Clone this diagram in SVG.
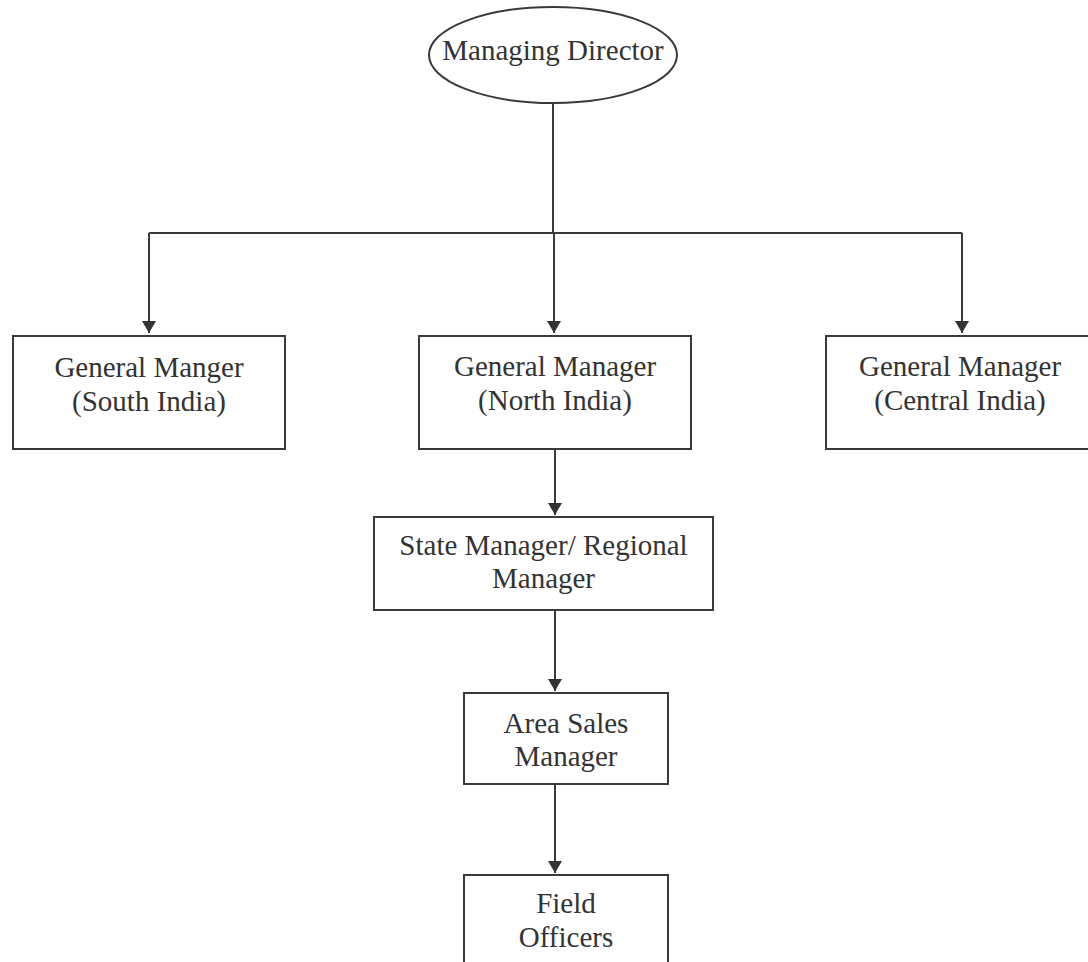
<svg xmlns="http://www.w3.org/2000/svg" width="1088" height="962" viewBox="0 0 1088 962">
  <defs>
    <style>
      .box { fill: #ffffff; stroke: #3a3a3a; stroke-width: 2; }
      .lbl { font-family: 'Liberation Serif', 'Times New Roman', Times, 'DejaVu Serif', serif; font-size: 29px; fill: #333333; text-anchor: middle; }
      .con { fill: none; stroke: #3a3a3a; stroke-width: 2; }
    </style>
    <marker id="arrow" viewBox="0 0 12 14" refX="12" refY="7" markerWidth="12" markerHeight="14" markerUnits="userSpaceOnUse" orient="auto">
      <path d="M0,0 L12,7 L0,14 z" fill="#333333"/>
    </marker>
  </defs>
  <rect width="1088" height="962" fill="#ffffff"/>

  <g id="connectors">
    <line class="con" x1="553" y1="103" x2="553" y2="233"/>
    <line class="con" x1="149" y1="233" x2="962" y2="233"/>
    <line class="con" x1="149" y1="233" x2="149" y2="333" marker-end="url(#arrow)"/>
    <line class="con" x1="554" y1="233" x2="554" y2="333" marker-end="url(#arrow)"/>
    <line class="con" x1="962" y1="233" x2="962" y2="333" marker-end="url(#arrow)"/>
    <line class="con" x1="555" y1="449" x2="555" y2="515" marker-end="url(#arrow)"/>
    <line class="con" x1="555" y1="610" x2="555" y2="691" marker-end="url(#arrow)"/>
    <line class="con" x1="555" y1="784" x2="555" y2="873" marker-end="url(#arrow)"/>
  </g>

  <g id="managing-director">
    <ellipse class="box" cx="553" cy="55" rx="124" ry="48"/>
    <text class="lbl" x="553" y="60" font-family="Liberation Serif, serif">Managing Director</text>
  </g>

  <g id="gm-south">
    <rect class="box" x="13" y="336" width="272" height="113"/>
    <text class="lbl" x="149" y="377">General Manger</text>
    <text class="lbl" x="149" y="411">(South India)</text>
  </g>

  <g id="gm-north">
    <rect class="box" x="419" y="336" width="272" height="113"/>
    <text class="lbl" x="555" y="376">General Manager</text>
    <text class="lbl" x="555" y="410">(North India)</text>
  </g>

  <g id="gm-central">
    <rect class="box" x="826" y="336" width="272" height="113"/>
    <text class="lbl" x="960" y="376">General Manager</text>
    <text class="lbl" x="960" y="410">(Central India)</text>
  </g>

  <g id="state-manager">
    <rect class="box" x="374" y="517" width="339" height="93"/>
    <text class="lbl" x="543.5" y="555">State Manager/ Regional</text>
    <text class="lbl" x="543.5" y="588">Manager</text>
  </g>

  <g id="area-sales-manager">
    <rect class="box" x="464" y="693" width="204" height="91"/>
    <text class="lbl" x="566" y="733">Area Sales</text>
    <text class="lbl" x="566" y="766">Manager</text>
  </g>

  <g id="field-officers">
    <rect class="box" x="464" y="875" width="204" height="100"/>
    <text class="lbl" x="566" y="913">Field</text>
    <text class="lbl" x="566" y="947">Officers</text>
  </g>
</svg>
